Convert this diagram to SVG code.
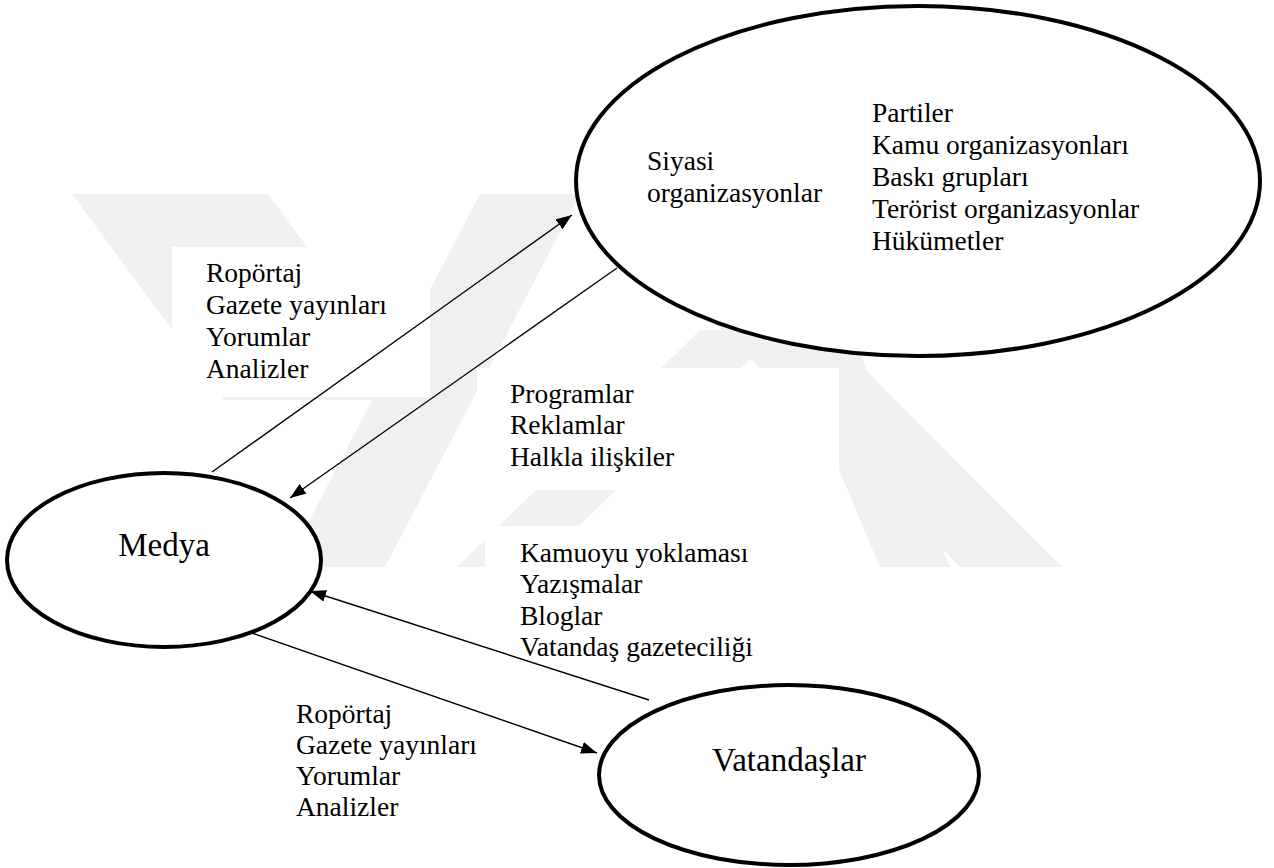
<svg xmlns="http://www.w3.org/2000/svg" width="1274" height="868" viewBox="0 0 1274 868">
  <style>
    .node { fill: #ffffff; stroke: #000000; stroke-width: 4; }
    .conn { stroke: #000000; stroke-width: 1.4; fill: none; marker-end: url(#ah); }
    .lbl { font-size: 27.5px; fill: #000000; }
    .title { font-size: 33px; fill: #000000; }
    .wm { fill: #f0f0f0; }
    .box { fill: #ffffff; }
  </style>
  <defs>
    <marker id="ah" markerWidth="16" markerHeight="12" refX="16" refY="6" orient="auto" markerUnits="userSpaceOnUse">
      <path d="M0,0 L16,6 L0,12 z" fill="#000000"/>
    </marker>
  </defs>
  <rect x="0" y="0" width="1274" height="868" fill="#ffffff"/>

  <g id="watermark">
    <polygon class="wm" points="72,194 268,194 420,400 224,400"/>
    <polygon class="wm" points="480,194 580,194 385,567 285,567"/>
    <polygon class="wm" points="585,194 690,194 1062,567 960,567"/>
    <polygon class="wm" points="700,330 780,330 537,567 457,567"/>
    <polygon class="wm" points="780,330 850,330 950,567 880,567"/>
    <rect class="box" x="172" y="247" width="258" height="150"/>
    <rect class="box" x="477" y="368" width="362" height="122"/>
    <rect class="box" x="485" y="526" width="340" height="145"/>
  </g>

  <g id="connectors">
    <path class="conn" d="M212,472 L572,215"/>
    <path class="conn" d="M617,268 L290,498"/>
    <path class="conn" d="M649,700 L310,591"/>
    <path class="conn" d="M252,633 L597,753"/>
  </g>

  <g font-family="'Liberation Serif', 'Times New Roman', Tinos, 'DejaVu Serif', serif">
  <g id="siyasi">
    <ellipse class="node" cx="918" cy="181" rx="342" ry="175"/>
    <text class="lbl" x="647" y="170">Siyasi</text>
    <text class="lbl" x="647" y="202">organizasyonlar</text>
    <text class="lbl" x="872" y="122">Partiler</text>
    <text class="lbl" x="872" y="154">Kamu organizasyonları</text>
    <text class="lbl" x="872" y="186">Baskı grupları</text>
    <text class="lbl" x="872" y="218">Terörist organizasyonlar</text>
    <text class="lbl" x="872" y="250">Hükümetler</text>
  </g>

  <g id="medya">
    <ellipse class="node" cx="164" cy="560" rx="157" ry="87"/>
    <text class="title" x="164" y="556" text-anchor="middle">Medya</text>
  </g>

  <g id="vatandaslar">
    <ellipse class="node" cx="789" cy="775" rx="190" ry="90"/>
    <text class="title" x="789" y="771" text-anchor="middle">Vatandaşlar</text>
  </g>

  <g id="labels">
    <text class="lbl" x="206" y="282">Ropörtaj</text>
    <text class="lbl" x="206" y="314">Gazete yayınları</text>
    <text class="lbl" x="206" y="346">Yorumlar</text>
    <text class="lbl" x="206" y="378">Analizler</text>

    <text class="lbl" x="510" y="403">Programlar</text>
    <text class="lbl" x="510" y="434">Reklamlar</text>
    <text class="lbl" x="510" y="466">Halkla ilişkiler</text>

    <text class="lbl" x="520" y="562">Kamuoyu yoklaması</text>
    <text class="lbl" x="520" y="593">Yazışmalar</text>
    <text class="lbl" x="520" y="625">Bloglar</text>
    <text class="lbl" x="520" y="656">Vatandaş gazeteciliği</text>

    <text class="lbl" x="296" y="723">Ropörtaj</text>
    <text class="lbl" x="296" y="754">Gazete yayınları</text>
    <text class="lbl" x="296" y="785">Yorumlar</text>
    <text class="lbl" x="296" y="816">Analizler</text>
  </g>
  </g>
</svg>
